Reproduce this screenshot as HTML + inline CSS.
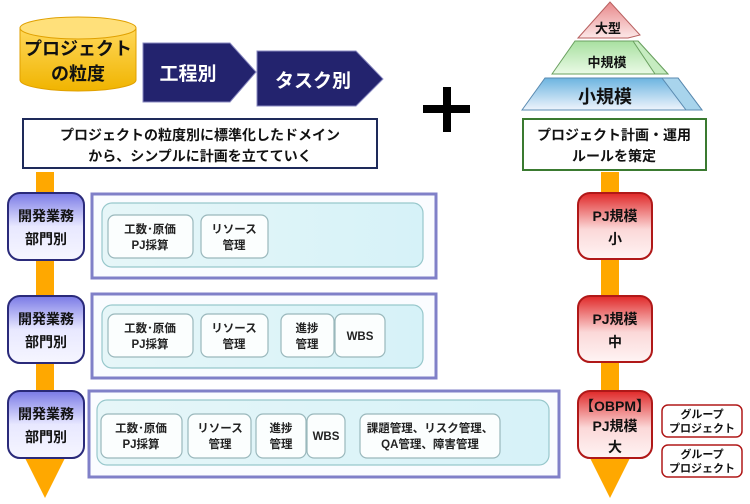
<!DOCTYPE html>
<html><head><meta charset="utf-8"><style>
html,body{margin:0;padding:0;background:#fff;}
svg text{font-family:"Liberation Sans","Noto Sans CJK JP",sans-serif;font-weight:bold;}
</style></head><body>
<svg width="750" height="499" viewBox="0 0 750 499" xmlns="http://www.w3.org/2000/svg">
<defs>
<linearGradient id="cyl" x1="0" x2="0" y1="0" y2="1"><stop offset="0" stop-color="#ffd85a"/><stop offset="1" stop-color="#f0b400"/></linearGradient>
<linearGradient id="pr" x1="0" x2="0" y1="0" y2="1"><stop offset="0" stop-color="#e8888a"/><stop offset="1" stop-color="#fce8e8"/></linearGradient>
<linearGradient id="pg" x1="0" x2="0" y1="0" y2="1"><stop offset="0" stop-color="#a8e0a0"/><stop offset="1" stop-color="#eafae6"/></linearGradient>
<linearGradient id="pb" x1="0" x2="0" y1="0" y2="1"><stop offset="0" stop-color="#6cb4e0"/><stop offset="1" stop-color="#eef4fc"/></linearGradient>
<linearGradient id="bl" x1="0" x2="0" y1="0" y2="1"><stop offset="0" stop-color="#7a7ae6"/><stop offset="0.5" stop-color="#e8e8ff"/><stop offset="1" stop-color="#f6f6ff"/></linearGradient>
<linearGradient id="rd" x1="0" x2="0" y1="0" y2="1"><stop offset="0" stop-color="#e02828"/><stop offset="0.55" stop-color="#fbd8d8"/><stop offset="1" stop-color="#fff4f4"/></linearGradient>
<linearGradient id="inn" x1="0" x2="1" y1="0" y2="0"><stop offset="0" stop-color="#e6f6f8"/><stop offset="1" stop-color="#d6f2f8"/></linearGradient>
</defs>

<path d="M20 28 L20 80 A58 11 0 0 0 136 80 L136 28 Z" fill="url(#cyl)" stroke="#e0a000"/>
<ellipse cx="78" cy="28" rx="58" ry="11" fill="#ffe07a" stroke="#e0a000"/>
<text x="78" y="55" font-size="18" text-anchor="middle" fill="#111">プロジェクト</text>
<text x="78" y="80" font-size="18" text-anchor="middle" fill="#111">の粒度</text>

<polygon points="143,43 230,43 256,72 230,102 143,102" fill="#23236e" stroke="#8888c0"/>
<text x="188" y="80" font-size="19" text-anchor="middle" fill="#fff">工程別</text>
<polygon points="257,51 356,51 383,79 356,106 257,106" fill="#23236e" stroke="#8888c0"/>
<text x="313" y="87" font-size="19" text-anchor="middle" fill="#fff">タスク別</text>

<rect x="23" y="119" width="354" height="49" fill="#fff" stroke="#1e2a5a" stroke-width="2"/>
<text x="200" y="140" font-size="14" text-anchor="middle" fill="#111">プロジェクトの粒度別に標準化したドメイン</text>
<text x="200" y="161" font-size="14" text-anchor="middle" fill="#111">から、シンプルに計画を立てていく</text>

<rect x="443" y="87" width="8" height="45" fill="#000"/>
<rect x="423" y="105" width="47" height="8" fill="#000"/>

<polygon points="522,110 545,78 678,78 702,110" fill="url(#pb)" stroke="#5a8ab0"/>
<polygon points="662,78 678,78 702,110 686,110" fill="#a8d4ec" stroke="#5a8ab0"/>
<polygon points="552,74 575,41 638,41 668,74" fill="url(#pg)" stroke="#6aa060"/>
<polygon points="633,41 638,41 668,74 655,74" fill="#c6ecc0" stroke="#6aa060"/>
<polygon points="578,38 610,2 640,35 628,38" fill="url(#pr)" stroke="#b86060"/>
<text x="608" y="33" font-size="13" text-anchor="middle" fill="#111">大型</text>
<text x="607" y="67" font-size="13" text-anchor="middle" fill="#111">中規模</text>
<text x="605" y="103" font-size="18" text-anchor="middle" fill="#111">小規模</text>

<rect x="523" y="119" width="183" height="51" fill="#fff" stroke="#3a7a30" stroke-width="2"/>
<text x="614" y="140" font-size="14" text-anchor="middle" fill="#111">プロジェクト計画・運用</text>
<text x="614" y="161" font-size="14" text-anchor="middle" fill="#111">ルールを策定</text>

<rect x="36" y="172" width="18" height="290" fill="#ffa800"/>
<polygon points="25,458 65,458 45,498" fill="#ffa800"/>
<rect x="601" y="172" width="18" height="290" fill="#ffa800"/>
<polygon points="590,458 630,458 610,498" fill="#ffa800"/>

<g font-size="14" text-anchor="middle" fill="#111">
<rect x="8" y="193" width="76" height="67" rx="12" fill="url(#bl)" stroke="#2a2a7a" stroke-width="2"/>
<text x="46" y="221">開発業務</text><text x="46" y="244">部門別</text>
<rect x="8" y="296" width="76" height="67" rx="12" fill="url(#bl)" stroke="#2a2a7a" stroke-width="2"/>
<text x="46" y="324">開発業務</text><text x="46" y="347">部門別</text>
<rect x="8" y="391" width="76" height="67" rx="12" fill="url(#bl)" stroke="#2a2a7a" stroke-width="2"/>
<text x="46" y="419">開発業務</text><text x="46" y="442">部門別</text>
</g>

<g fill="#fafcff" stroke="#8080c8" stroke-width="3">
<rect x="92" y="194" width="344" height="84"/>
<rect x="92" y="294" width="344" height="84"/>
<rect x="89" y="391" width="470" height="86"/>
</g>
<g fill="url(#inn)" stroke="#98c8cc" stroke-width="1.2">
<rect x="102" y="203" width="321" height="64" rx="10"/>
<rect x="102" y="305" width="321" height="63" rx="10"/>
<rect x="97" y="400" width="452" height="65" rx="10"/>
</g>
<g fill="#fbfefe" stroke="#9ab8bc" stroke-width="1.2">
<rect x="108" y="215" width="85" height="43" rx="7"/>
<rect x="201" y="215" width="67" height="43" rx="7"/>
<rect x="108" y="314" width="85" height="43" rx="7"/>
<rect x="201" y="314" width="67" height="43" rx="7"/>
<rect x="281" y="314" width="53" height="43" rx="7"/>
<rect x="335" y="314" width="50" height="43" rx="7"/>
<rect x="101" y="414" width="81" height="44" rx="7"/>
<rect x="188" y="414" width="63" height="44" rx="7"/>
<rect x="256" y="414" width="50" height="44" rx="7"/>
<rect x="307" y="414" width="38" height="44" rx="7"/>
<rect x="360" y="414" width="140" height="44" rx="7"/>
</g>
<g font-size="11.5" text-anchor="middle" fill="#222">
<text x="150" y="233">工数･原価</text><text x="150" y="249">PJ採算</text>
<text x="234" y="233">リソース</text><text x="234" y="249">管理</text>
<text x="150" y="332">工数･原価</text><text x="150" y="348">PJ採算</text>
<text x="234" y="332">リソース</text><text x="234" y="348">管理</text>
<text x="307" y="332">進捗</text><text x="307" y="348">管理</text>
<text x="360" y="340">WBS</text>
<text x="141" y="432">工数･原価</text><text x="141" y="448">PJ採算</text>
<text x="220" y="432">リソース</text><text x="220" y="448">管理</text>
<text x="281" y="432">進捗</text><text x="281" y="448">管理</text>
<text x="326" y="440">WBS</text>
<text x="430" y="432">課題管理、リスク管理、</text><text x="430" y="448">QA管理、障害管理</text>
</g>

<g font-size="14" text-anchor="middle" fill="#111">
<rect x="578" y="193" width="74" height="66" rx="12" fill="url(#rd)" stroke="#b01818" stroke-width="2"/>
<text x="615" y="221">PJ規模</text><text x="615" y="244">小</text>
<rect x="578" y="296" width="74" height="66" rx="12" fill="url(#rd)" stroke="#b01818" stroke-width="2"/>
<text x="615" y="324">PJ規模</text><text x="615" y="347">中</text>
<rect x="578" y="391" width="74" height="67" rx="12" fill="url(#rd)" stroke="#b01818" stroke-width="2"/>
<text x="615" y="411">【OBPM】</text><text x="615" y="431">PJ規模</text><text x="615" y="452">大</text>
</g>
<g fill="#fff" stroke="#b01818" stroke-width="1.5">
<rect x="662" y="405" width="80" height="32" rx="6"/>
<rect x="662" y="445" width="80" height="32" rx="6"/>
</g>
<g font-size="11" text-anchor="middle" fill="#111">
<text x="702" y="418">グループ</text><text x="702" y="432">プロジェクト</text>
<text x="702" y="458">グループ</text><text x="702" y="472">プロジェクト</text>
</g>
</svg>
</body></html>
